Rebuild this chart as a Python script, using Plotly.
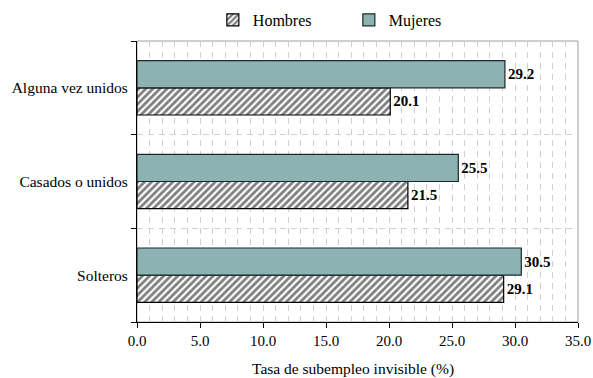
import plotly.graph_objects as go

categories = ["Solteros", "Casados o unidos", "Alguna vez unidos"]
hombres = [29.1, 21.5, 20.1]
mujeres = [30.5, 25.5, 29.2]
x_ticks = [0, 5, 10, 15, 20, 25, 30, 35]
x_title = "Tasa de subempleo invisible (%)"

FONT = "Liberation Serif"

fig = go.Figure()
fig.add_trace(go.Bar(
    y=categories, x=hombres, orientation="h", name="Hombres",
    marker=dict(color="white", line=dict(color="black", width=1.2),
                pattern=dict(shape="/", fgcolor="black", bgcolor="white",
                             size=5, solidity=0.55)),
    texttemplate="%{x:.1f}", textposition="outside",
    textfont=dict(family=FONT, size=15, color="black", weight="bold"),
    cliponaxis=False,
))
fig.add_trace(go.Bar(
    y=categories, x=mujeres, orientation="h", name="Mujeres",
    marker=dict(color="#8cb2b2", line=dict(color="#1a2a2a", width=1.2)),
    texttemplate="%{x:.1f}", textposition="outside",
    textfont=dict(family=FONT, size=15, color="black", weight="bold"),
    cliponaxis=False,
))

fig.update_layout(
    width=593, height=378,
    margin=dict(l=137, r=15, t=41, b=56, autoexpand=False),
    paper_bgcolor="white", plot_bgcolor="white",
    barmode="group", bargap=0.42, bargroupgap=0,
    font=dict(family=FONT, size=15, color="black"),
    showlegend=True,
    legend=dict(orientation="h", x=0.172, xanchor="left", y=1.075, yanchor="middle",
                font=dict(family=FONT, size=16), traceorder="normal",
                entrywidth=91, entrywidthmode="pixels", tracegroupgap=0),
    shapes=[dict(type="rect", xref="paper", yref="paper", x0=0, x1=1, y0=0, y1=1,
                 line=dict(color="#a0a0a0", width=1), layer="below")],
    annotations=[dict(text=x_title, xref="paper", yref="paper", x=0.49, y=-0.166,
                      xanchor="center", yanchor="middle", showarrow=False,
                      font=dict(family=FONT, size=15.5, color="black"))],
)
fig.update_xaxes(
    range=[0, 35], tickvals=x_ticks, tickformat=".1f", automargin=False,
    ticks="outside", ticklen=5, tickcolor="black",
    showline=True, linecolor="black", linewidth=1,
    showgrid=False, zeroline=False,
    minor=dict(dtick=1, showgrid=True, gridcolor="#d0d0d0", griddash="6px,5px", gridwidth=1),
    tickfont=dict(family=FONT, size=15),
)
fig.update_yaxes(
    categoryorder="array", categoryarray=categories, automargin=False,
    tickson="boundaries", ticks="outside", ticklen=5, tickcolor="black",
    ticklabelstandoff=5,
    showline=True, linecolor="black", linewidth=1,
    showgrid=True, gridcolor="#d0d0d0", griddash="6px,5px",
    tickfont=dict(family=FONT, size=15.5),
)

fig.write_html("out.html")
